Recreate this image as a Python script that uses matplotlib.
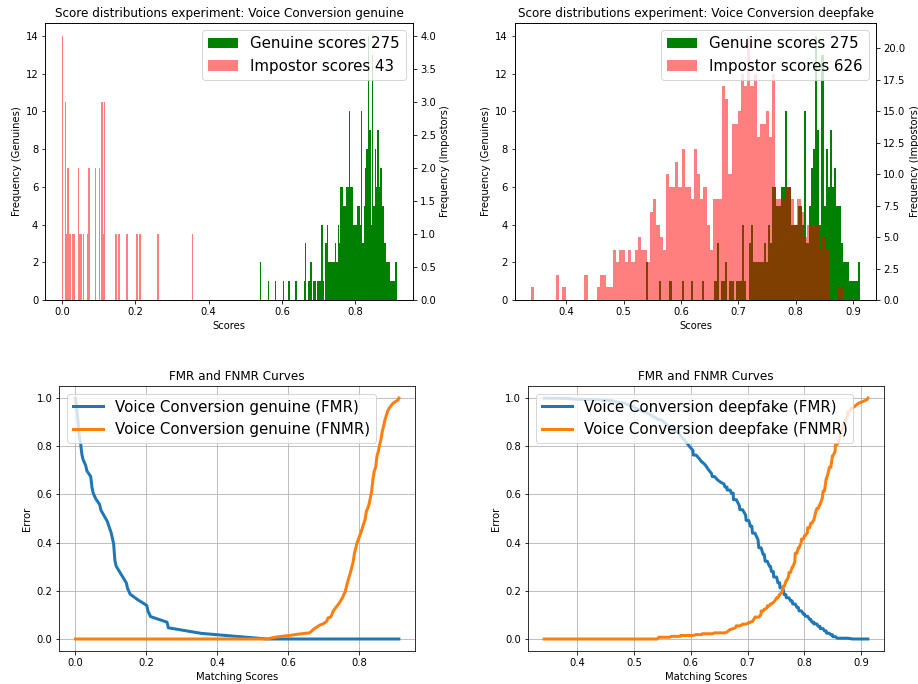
import numpy as np
import matplotlib.pyplot as plt

# Genuine scores (same set for both experiments), 100 histogram bins
gen_min, gen_max = 0.539, 0.912
gen_counts = [
    2, 0, 0, 0, 0, 0, 1, 0, 0, 0,
    0, 1, 0, 0, 0, 0, 0, 1, 0, 0,
    0, 1, 0, 0, 0, 0, 1, 0, 0, 0,
    0, 0, 1, 3, 0, 1, 1, 2, 0, 1,
    1, 0, 1, 1, 1, 4, 1, 0, 3, 4,
    2, 2, 2, 2, 2, 3, 2, 4, 3, 6,
    6, 5, 5, 6, 6, 10, 6, 6, 4, 4,
    4, 5, 5, 4, 10, 3, 5, 7, 8, 14,
    9, 4, 13, 5, 8, 6, 9, 6, 7, 5,
    5, 3, 2, 2, 2, 1, 1, 1, 1, 2,
]

# Impostor scores, experiment "Voice Conversion genuine"
impg_min, impg_max = 0.0, 0.358
impg_counts = [
    4, 0, 3, 1, 2, 1, 1, 0, 1, 1,
    0, 0, 2, 1, 1, 0, 1, 0, 0, 1,
    2, 0, 0, 0, 0, 2, 0, 0, 2, 0,
    3, 1, 3, 0, 0, 0, 0, 0, 0, 0,
    1, 1, 0, 1, 0, 0, 0, 0, 0, 1,
    0, 0, 0, 0, 0, 0, 1, 1, 0, 1,
    0, 0, 0, 0, 0, 0, 0, 0, 0, 0,
    0, 0, 1, 1, 0, 0, 0, 0, 0, 0,
    0, 0, 0, 0, 0, 0, 0, 0, 0, 0,
    0, 0, 0, 0, 0, 0, 0, 0, 0, 1,
]

# Impostor scores, experiment "Voice Conversion deepfake"
impd_min, impd_max = 0.339, 0.885
impd_counts = [
    1, 0, 0, 0, 0, 0, 0, 0, 2, 0,
    1, 0, 0, 0, 0, 0, 0, 2, 0, 0,
    0, 1, 2, 2, 1, 1, 4, 3, 4, 4,
    3, 4, 3, 4, 5, 4, 4, 3, 7, 8,
    6, 5, 4, 10, 9, 9, 11, 9, 12, 9,
    9, 8, 12, 10, 8, 9, 6, 4, 8, 8,
    8, 17, 16, 10, 14, 14, 15, 18, 17, 21,
    17, 18, 13, 14, 14, 15, 13, 18, 8, 8,
    8, 9, 9, 8, 6, 8, 7, 5, 6, 6,
    6, 6, 4, 5, 4, 0, 0, 0, 1, 1,
]

experiments = ['Voice Conversion genuine', 'Voice Conversion deepfake']
impostors = [(impg_min, impg_max, impg_counts), (impd_min, impd_max, impd_counts)]

gen_counts = np.array(gen_counts)
gen_edges = np.linspace(gen_min, gen_max, len(gen_counts) + 1)
gen_centers = (gen_edges[:-1] + gen_edges[1:]) / 2

fig = plt.figure(figsize=(12.75, 9.5), dpi=72)
top_pos = [[0.0493, 0.5614, 0.4009, 0.4054], [0.5607, 0.5614, 0.3939, 0.4054]]
bot_pos = [[0.0646, 0.0482, 0.3875, 0.3874], [0.5752, 0.0482, 0.3878, 0.3874]]

for i, name in enumerate(experiments):
    lo, hi, counts = impostors[i]
    imp_counts = np.array(counts)
    imp_edges = np.linspace(lo, hi, len(imp_counts) + 1)
    imp_centers = (imp_edges[:-1] + imp_edges[1:]) / 2

    # score distributions
    ax = fig.add_axes(top_pos[i])
    ax.hist(gen_edges[:-1], bins=gen_edges, weights=gen_counts, color='green',
            label='Genuine scores %d' % gen_counts.sum())
    ax.set_xlabel('Scores')
    ax.set_ylabel('Frequency (Genuines)')
    ax.set_title('Score distributions experiment: ' + name)
    ax2 = ax.twinx()
    ax2.hist(imp_edges[:-1], bins=imp_edges, weights=imp_counts, color='red', alpha=0.5,
             label='Impostor scores %d' % imp_counts.sum())
    ax2.set_ylabel('Frequency (Impostors)')
    h1, l1 = ax.get_legend_handles_labels()
    h2, l2 = ax2.get_legend_handles_labels()
    ax2.legend(h1 + h2, l1 + l2, loc='upper right', fontsize=15)

    # FMR / FNMR curves, thresholds at the occupied bins
    thr = np.unique(np.concatenate([gen_centers[gen_counts > 0],
                                    imp_centers[imp_counts > 0],
                                    [gen_edges[-1]]]))
    fmr = [imp_counts[imp_centers >= t].sum() / imp_counts.sum() for t in thr]
    fnmr = [gen_counts[gen_centers < t].sum() / gen_counts.sum() for t in thr]

    bx = fig.add_axes(bot_pos[i])
    bx.plot(thr, fmr, lw=3, label=name + ' (FMR)')
    bx.plot(thr, fnmr, lw=3, label=name + ' (FNMR)')
    bx.set_title('FMR and FNMR Curves')
    bx.set_xlabel('Matching Scores')
    bx.set_ylabel('Error')
    bx.grid(True)
    bx.legend(loc='upper left', fontsize=15)

plt.savefig('out.png', dpi=72)
plt.close()
